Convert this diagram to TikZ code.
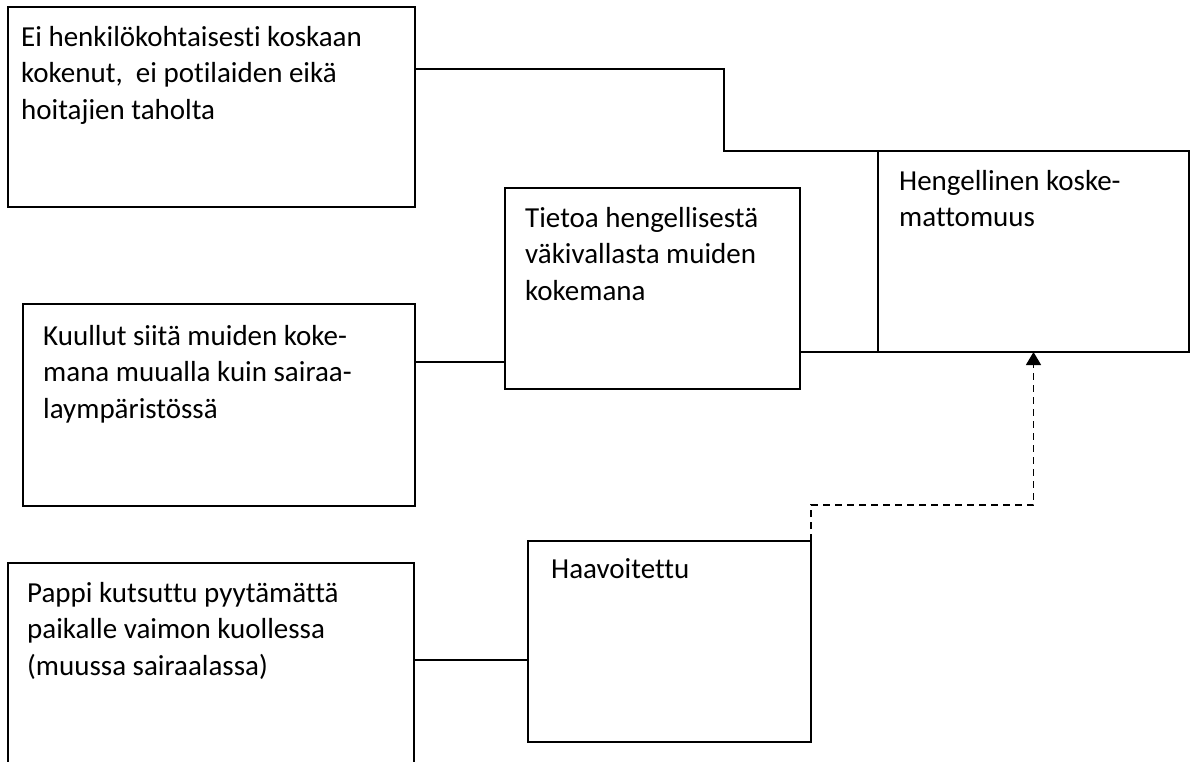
\documentclass[tikz,border=0pt]{standalone}
\usepackage{fontspec}
\setmainfont[Ligatures=NoCommon]{Carlito}
\usetikzlibrary{arrows.meta}
\begin{document}
\begin{tikzpicture}[x=1pt,y=-1pt,
  box/.style={draw, line width=1.4pt, rectangle, inner sep=0pt, outer sep=0pt, anchor=north west},
  txt/.style={anchor=base west, inner sep=0pt, font=\fontsize{29}{35}\selectfont},
  conn/.style={line width=1.3pt},
  dconn/.style={line width=1.3pt, dash pattern=on 7pt off 5pt, -{Triangle[length=13pt,width=15pt]}}
]
\useasboundingbox (0,0) rectangle (1191,761);
\fill[white] (0,0) rectangle (1191,761);
\begin{scope}
\clip (0,0) rectangle (1191,761);
% boxes
\node[box, minimum width=407pt, minimum height=200pt] (b1) at (8,7) {};
\node[box, minimum width=392pt, minimum height=202pt] (ku) at (23,304) {};
\node[box, minimum width=295pt, minimum height=201pt] (ti) at (505,188) {};
\node[box, minimum width=311pt, minimum height=201pt] (hen) at (878,151) {};
\node[box, minimum width=406pt, minimum height=230pt] (pa) at (8,563) {};
\node[box, minimum width=283pt, minimum height=201pt] (ha) at (528,541) {};
\end{scope}
% texts
\node[txt] (b1l1) at (21,46) {Ei henkilökohtaisesti koskaan};
\node[txt] (b1l2) at (21,82.5) {kokenut,\ \ ei potilaiden eikä};
\node[txt] (b1l3) at (21,119) {hoitajien taholta};
\node[txt] (kul1) at (43,345) {Kuullut siitä muiden koke-};
\node[txt] (kul2) at (43,381.5) {mana muualla kuin sairaa-};
\node[txt] (kul3) at (43,418) {laympäristössä};
\node[txt] (til1) at (525,227) {Tietoa hengellisestä};
\node[txt] (til2) at (525,263.5) {väkivallasta muiden};
\node[txt] (til3) at (525,300) {kokemana};
\node[txt] (henl1) at (899,190) {Hengellinen koske-};
\node[txt] (henl2) at (899,226.5) {mattomuus};
\node[txt] (pal1) at (27,602) {Pappi kutsuttu pyytämättä};
\node[txt] (pal2) at (27,638.5) {paikalle vaimon kuollessa};
\node[txt] (pal3) at (27,675) {(muussa sairaalassa)};
\node[txt] (hal1) at (551,578) {Haavoitettu};
% connectors
\coordinate (k1) at (724,69);
\draw[conn] (b1.east |- k1) -- (k1) |- (hen.north);
\draw[conn] (ku.east |- 0,362) -- (ti.west |- 0,362);
\draw[conn] (ti.east |- hen.south) -- (hen.south west);
\draw[conn] (pa.east |- 0,660) -- (ha.west |- 0,660);
\coordinate (k2) at (811,505);
\draw[dconn] (ha.north east) -- (k2) -| (hen.south);
\end{tikzpicture}
\end{document}
